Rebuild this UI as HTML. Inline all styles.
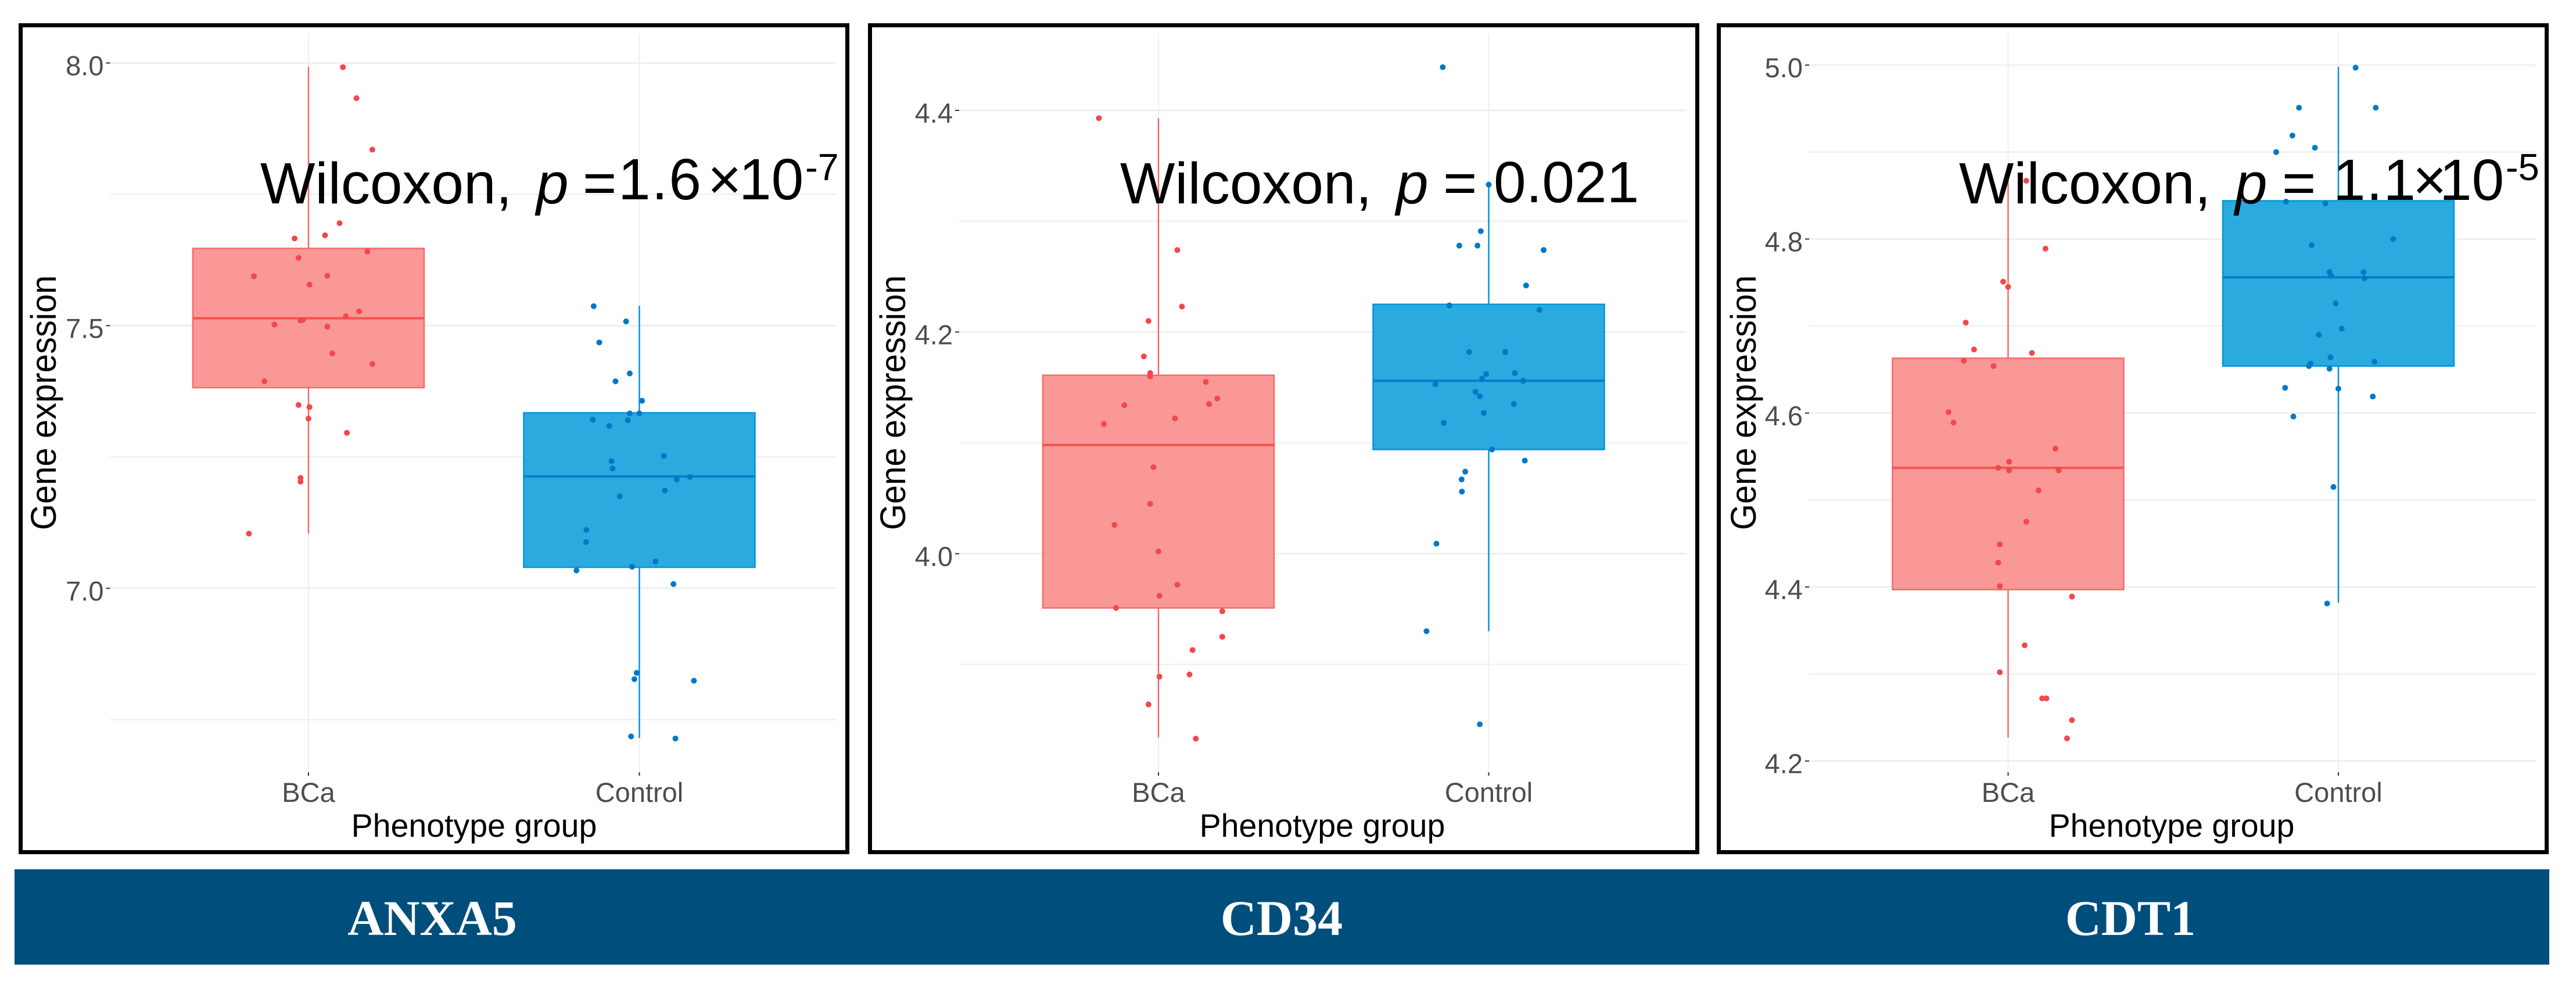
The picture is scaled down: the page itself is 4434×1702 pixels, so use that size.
<!DOCTYPE html>
<html lang="en">
<head>
<meta charset="utf-8">
<title>Gene expression boxplots</title>
<style>
html,body{margin:0;padding:0;background:#fff;width:4434px;height:1702px;overflow:hidden}
svg{display:block}
text{font-family:"Liberation Sans",Arial,sans-serif}
.stat{font-size:100px;fill:#000}
.gene{font-family:"Liberation Serif",serif;font-size:86px;font-weight:bold;fill:#fff;text-anchor:middle}
</style>
</head>
<body>
<svg id="figure" xmlns="http://www.w3.org/2000/svg" width="4434" height="1702" viewBox="0 0 4434 1702">
  <rect width="4434" height="1702" fill="#fff"/>
  <g id="plots"></g>
  <g class="stat">
    <text x="448" y="350">Wilcoxon,</text>
    <text x="923" y="350" font-style="italic">p</text>
    <text x="1003" y="349">=</text>
    <text x="1064" y="343" letter-spacing="2">1.6</text>
    <text x="1218" y="343">×</text>
    <text x="1272" y="343">10</text>
    <text x="1386" y="310" font-size="65">-7</text>
  </g>
  <g class="stat">
    <text x="1928" y="350">Wilcoxon,</text>
    <text x="2403" y="350" font-style="italic">p</text>
    <text x="2484" y="349">=</text>
    <text x="2571" y="348">0.021</text>
  </g>
  <clipPath id="boxClip"><rect x="3900" y="200" width="500" height="146"/></clipPath>
  <g class="stat">
    <text x="3372" y="350">Wilcoxon,</text>
    <text x="3847" y="350" font-style="italic">p</text>
    <text x="3928" y="349">=</text>
    <g clip-path="url(#boxClip)">
      <text x="4016" y="344" letter-spacing="1.5">1.1</text>
      <text x="4153" y="344">×</text>
      <text x="4199" y="344">10</text>
    </g>
    <text x="4313" y="310" font-size="65">-5</text>
  </g>
  <rect x="25" y="1496" width="4363" height="164" fill="#004e7c"/>
  <text class="gene" x="744" y="1609">ANXA5</text>
  <text class="gene" x="2206" y="1609">CD34</text>
  <text class="gene" x="3667" y="1609">CDT1</text>
</svg>
<script>
var categories = ['BCa', 'Control'];

var anxa5Ticks = [8.0, 7.5, 7.0];
var anxa5TickLabels = ['8.0', '7.5', '7.0'];
var anxa5Minor = [7.75, 7.25, 6.75];
var anxa5BoxBCa = [7.104, 7.382, 7.514, 7.647, 7.993];
var anxa5BoxControl = [6.715, 7.040, 7.213, 7.334, 7.538];
var anxa5BCaValues = [7.992,7.933,7.835,7.695,7.672,7.666,7.641,7.629,7.594,7.595,7.578,7.527,7.518,7.510,7.511,7.502,7.498,7.447,7.427,7.394,7.349,7.345,7.323,7.296,7.210,7.203,7.104];
var anxa5BCaJitter = [.104,.145,.193,.094,.05,-.042,.178,-.03,-.165,.057,.003,.153,.113,-.024,-.017,-.103,.057,.072,.193,-.133,-.03,.003,0,.116,-.024,-.024,-.18];
var anxa5ControlValues = [7.537,7.508,7.468,7.409,7.394,7.357,7.333,7.333,7.321,7.320,7.309,7.252,7.242,7.228,7.212,7.207,7.175,7.186,7.111,7.088,7.051,7.041,7.034,7.008,6.839,6.827,6.824,6.718,6.714];
var anxa5ControlJitter = [-.138,-.04,-.121,-.029,-.072,.008,-.029,0,-.141,-.035,-.091,.074,-.084,-.081,.153,.113,-.059,.077,-.16,-.161,.049,-.022,-.19,.103,-.008,-.015,.165,-.025,.109];

var cd34Ticks = [4.4, 4.2, 4.0];
var cd34TickLabels = ['4.4', '4.2', '4.0'];
var cd34Minor = [4.3, 4.1, 3.9];
var cd34BoxBCa = [3.834, 3.951, 4.098, 4.161, 4.393];
var cd34BoxControl = [3.930, 4.094, 4.156, 4.225, 4.333];
var cd34BCaValues = [4.393,4.274,4.223,4.210,4.178,4.163,4.160,4.155,4.140,4.135,4.134,4.117,4.122,4.078,4.045,4.026,4.002,3.972,3.962,3.951,3.948,3.925,3.913,3.889,3.891,3.864,3.833];
var cd34BCaJitter = [-.18,.057,.071,-.03,-.044,-.025,-.025,.143,.178,.153,-.103,-.165,.05,-.015,-.025,-.133,0,.057,.003,-.128,.193,.193,.103,.003,.094,-.03,.113];
var cd34ControlValues = [4.439,4.333,4.291,4.278,4.278,4.274,4.242,4.224,4.220,4.182,4.182,4.163,4.162,4.158,4.156,4.153,4.146,4.142,4.135,4.127,4.118,4.094,4.084,4.074,4.067,4.056,4.009,3.930,3.846];
var cd34ControlJitter = [-.139,0,-.024,-.089,-.034,.166,.113,-.119,.153,-.059,.05,.079,-.008,-.02,.104,-.161,-.04,-.027,.076,-.015,-.136,.01,.109,-.071,-.082,-.081,-.158,-.188,-.027];

var cdt1Ticks = [5.0, 4.8, 4.6, 4.4, 4.2];
var cdt1TickLabels = ['5.0', '4.8', '4.6', '4.4', '4.2'];
var cdt1Minor = [4.9, 4.7, 4.5, 4.3];
var cdt1BoxBCa = [4.227, 4.397, 4.537, 4.663, 4.867];
var cdt1BoxControl = [4.382, 4.654, 4.756, 4.844, 4.998];
var cdt1BCaValues = [4.867,4.789,4.751,4.745,4.704,4.673,4.669,4.660,4.654,4.601,4.589,4.559,4.544,4.537,4.534,4.534,4.511,4.475,4.449,4.428,4.401,4.389,4.333,4.302,4.272,4.272,4.247,4.226];
var cdt1BCaJitter = [.055,.113,-.015,0,-.128,-.103,.072,-.134,-.044,-.18,-.165,.143,.003,-.03,.003,.153,.092,.055,-.025,-.03,-.025,.193,.05,-.025,.103,.116,.193,.178];
var cdt1ControlValues = [4.997,4.951,4.951,4.919,4.905,4.900,4.843,4.841,4.800,4.793,4.762,4.762,4.758,4.755,4.726,4.697,4.690,4.664,4.659,4.657,4.654,4.651,4.629,4.628,4.619,4.596,4.515,4.381];
var cdt1ControlJitter = [.052,-.119,.113,-.139,-.071,-.188,-.158,-.039,.166,-.081,-.027,.076,-.022,.079,-.008,.01,-.059,-.024,.109,-.084,-.089,-.027,-.161,0,.104,-.136,-.015,-.034];

var panels = [
  {name:'anxa5', left:32, right:1462, gridL:189.5, gridR:1440, cx:[531,1100.5], tickTop:8.0, tickTopY:108.4, pxPerUnit:904, titleX:96, xTitleX:816,
   ticks:anxa5Ticks, labels:anxa5TickLabels, minor:anxa5Minor,
   boxes:[anxa5BoxBCa, anxa5BoxControl], values:[anxa5BCaValues, anxa5ControlValues], jitter:[anxa5BCaJitter, anxa5ControlJitter]},
  {name:'cd34', left:1494, right:2925, gridL:1651, gridR:2903, cx:[1994,2562.5], tickTop:4.4, tickTopY:190, pxPerUnit:1907, titleX:1558, xTitleX:2276,
   ticks:cd34Ticks, labels:cd34TickLabels, minor:cd34Minor,
   boxes:[cd34BoxBCa, cd34BoxControl], values:[cd34BCaValues, cd34ControlValues], jitter:[cd34BCaJitter, cd34ControlJitter]},
  {name:'cdt1', left:2955, right:4387, gridL:3114, gridR:4365, cx:[3456.5,4025], tickTop:5.0, tickTopY:112, pxPerUnit:1497, titleX:3022, xTitleX:3738,
   ticks:cdt1Ticks, labels:cdt1TickLabels, minor:cdt1Minor,
   boxes:[cdt1BoxBCa, cdt1BoxControl], values:[cdt1BCaValues, cdt1ControlValues], jitter:[cdt1BCaJitter, cdt1ControlJitter]}
];

var NS = 'http://www.w3.org/2000/svg';
var boxHalf = 199;
var xUnit = 569.5;
var groupFill = ['#f4433f', '#0099d8'];
var groupOpacity = [0.55, 0.83];
var groupStroke = ['#f56a68', '#0096d6'];
var groupMedian = ['#f2534f', '#0080cc'];
var groupPoint = ['#f4474a', '#0078c8'];

function mk(parent, tag, attrs, txt) {
  var el = document.createElementNS(NS, tag);
  for (var k in attrs) el.setAttribute(k, attrs[k]);
  if (txt !== undefined) el.textContent = txt;
  parent.appendChild(el);
  return el;
}

var root = document.getElementById('plots');
panels.forEach(function (p) {
  var yOf = function (v) { return p.tickTopY + (p.tickTop - v) * p.pxPerUnit; };
  var xOf = function (g, j) { return p.cx[g] + j * xUnit; };

  var g = mk(root, 'g', {});
  
  

  var frame = mk(g, 'rect', {x:p.left + 3.5, y:43.5, width:p.right - p.left - 7, height:1423, fill:'#fff', stroke:'#000', 'stroke-width':7});
  
  

  p.minor.forEach(function (v) {
    var l = mk(g, 'line', {x1:p.gridL, x2:p.gridR, y1:yOf(v), y2:yOf(v), stroke:'#f2f2f2', 'stroke-width':3});
    
    
  });
  p.ticks.forEach(function (v, i) {
    var l = mk(g, 'line', {x1:p.gridL, x2:p.gridR, y1:yOf(v), y2:yOf(v), stroke:'#efefef', 'stroke-width':3});
    
    
    var t = mk(g, 'line', {x1:p.gridL - 7, x2:p.gridL, y1:yOf(v), y2:yOf(v), stroke:'#333', 'stroke-width':2});
    
    
    var lab = mk(g, 'text', {x:p.gridL - 11, y:yOf(v) + 21, 'text-anchor':'end', 'font-size':47, fill:'#4d4d4d'}, p.labels[i]);
    
    
  });

  categories.forEach(function (c, i) {
    var x = p.cx[i];
    var vg = mk(g, 'line', {x1:x, x2:x, y1:58, y2:1328, stroke:'#efefef', 'stroke-width':2});
    
    
    var tk = mk(g, 'line', {x1:x, x2:x, y1:1329, y2:1335, stroke:'#333', 'stroke-width':2});
    
    
    var lab = mk(g, 'text', {x:x, y:1380, 'text-anchor':'middle', 'font-size':47, fill:'#4d4d4d'}, c);
    
    
  });

  categories.forEach(function (c, i) {
    var x = p.cx[i];
    var b = p.boxes[i];
    var wh = mk(g, 'line', {x1:x, x2:x, y1:yOf(b[4]), y2:yOf(b[0]), stroke:groupStroke[i], 'stroke-width':2.5});
    
    
    var rc = mk(g, 'rect', {x:x - boxHalf, y:yOf(b[3]), width:boxHalf * 2, height:yOf(b[1]) - yOf(b[3]), fill:'#fff'});
    
    
    var bx = mk(g, 'rect', {x:x - boxHalf, y:yOf(b[3]), width:boxHalf * 2, height:yOf(b[1]) - yOf(b[3]), fill:groupFill[i], 'fill-opacity':groupOpacity[i], stroke:groupStroke[i], 'stroke-width':2.5});
    
    
    var md = mk(g, 'line', {x1:x - boxHalf, x2:x + boxHalf, y1:yOf(b[2]), y2:yOf(b[2]), stroke:groupMedian[i], 'stroke-width':4});
    
    
    p.values[i].forEach(function (v, k) {
      var pt = mk(g, 'circle', {cx:xOf(i, p.jitter[i][k]), cy:yOf(v), r:5, fill:groupPoint[i]});
      
      
    });
  });

  var midY = 693;
  var yt = mk(g, 'text', {transform:'translate(' + p.titleX + ',' + midY + ') rotate(-90) scale(1,1.05)', 'text-anchor':'middle', 'font-size':58, fill:'#000'}, 'Gene expression');
  
  
  var xt = mk(g, 'text', {x:p.xTitleX, y:1440, 'text-anchor':'middle', 'font-size':55.5, fill:'#000'}, 'Phenotype group');
  
  
});
</script>
</body>
</html>
